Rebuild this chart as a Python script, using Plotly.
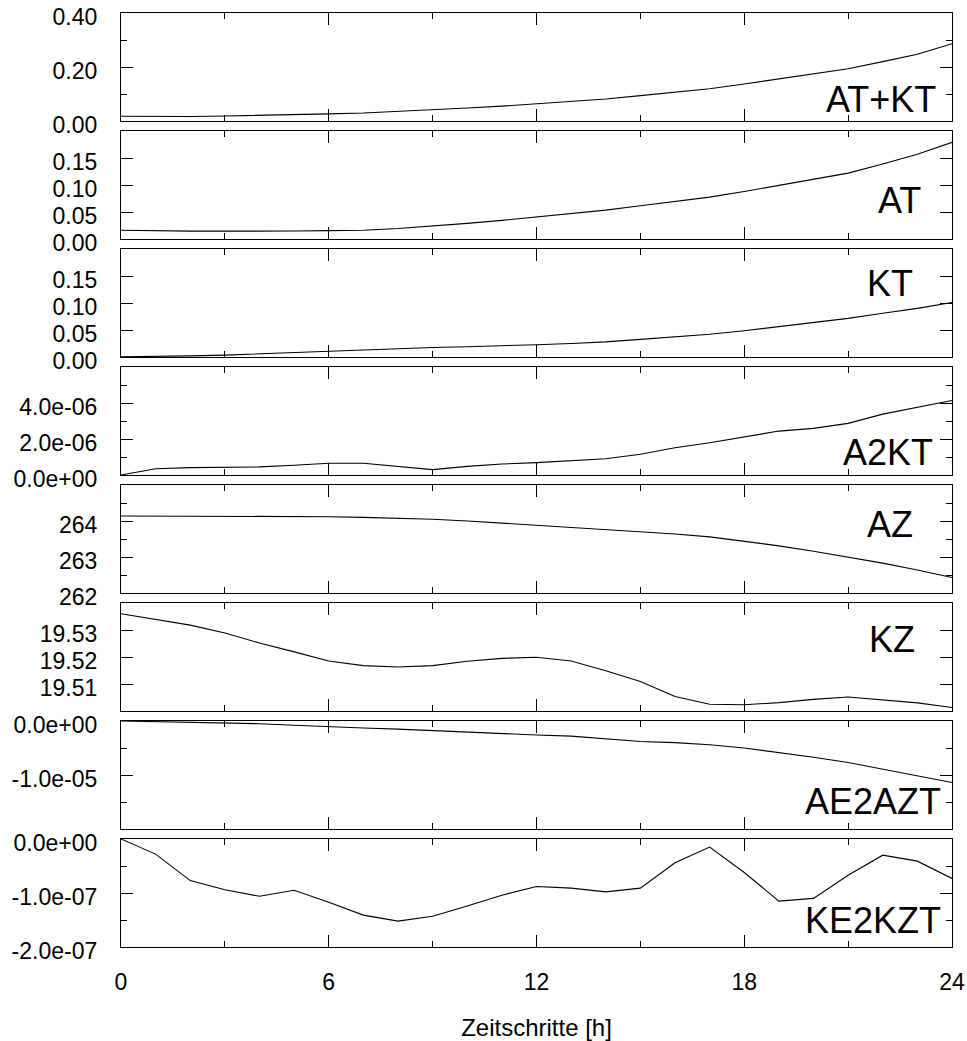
import plotly.graph_objects as go

# Hourly time steps
hours = list(range(25))

at_kt = [0.0175, 0.0165, 0.0165, 0.0185, 0.0205, 0.0235, 0.0265, 0.0295, 0.0350, 0.0415,
         0.0480, 0.0550, 0.0640, 0.0720, 0.0815, 0.0940, 0.1065, 0.1195, 0.1370, 0.1550,
         0.1730, 0.1935, 0.2200, 0.2470, 0.2860]
at = [0.0163, 0.0152, 0.0145, 0.0145, 0.0143, 0.0147, 0.0155, 0.0162, 0.0195, 0.0237,
      0.0290, 0.0345, 0.0410, 0.0470, 0.0535, 0.0617, 0.0695, 0.0775, 0.0880, 0.0990,
      0.1100, 0.1220, 0.1390, 0.1570, 0.1790]
kt = [0.0005, 0.0010, 0.0020, 0.0035, 0.0060, 0.0085, 0.0110, 0.0130, 0.0155, 0.0177,
      0.0190, 0.0205, 0.0227, 0.0250, 0.0280, 0.0326, 0.0370, 0.0420, 0.0487, 0.0560,
      0.0630, 0.0716, 0.0810, 0.0900, 0.1010]
a2kt = [0.0, 0.35e-6, 0.41e-6, 0.41e-6, 0.45e-6, 0.54e-6, 0.65e-6, 0.65e-6, 0.46e-6, 0.30e-6,
        0.48e-6, 0.61e-6, 0.69e-6, 0.80e-6, 0.90e-6, 1.15e-6, 1.51e-6, 1.79e-6, 2.13e-6, 2.44e-6,
        2.59e-6, 2.87e-6, 3.38e-6, 3.77e-6, 4.14e-6]
az = [264.14, 264.14, 264.14, 264.14, 264.14, 264.13, 264.12, 264.10, 264.08, 264.05,
      264.00, 263.94, 263.88, 263.83, 263.77, 263.71, 263.64, 263.56, 263.44, 263.31,
      263.16, 263.00, 262.83, 262.64, 262.43]
kz = [19.5360, 19.5340, 19.5318, 19.5289, 19.5252, 19.5219, 19.5185, 19.5168, 19.5163, 19.5168,
      19.5184, 19.5195, 19.5199, 19.5185, 19.5149, 19.5109, 19.5054, 19.5025, 19.5023, 19.5031,
      19.5043, 19.5052, 19.5042, 19.5030, 19.5013]
ae2azt = [0.0, -0.1e-6, -0.2e-6, -0.3e-6, -0.5e-6, -0.8e-6, -1.1e-6, -1.3e-6, -1.5e-6, -1.8e-6,
          -2.1e-6, -2.4e-6, -2.6e-6, -2.8e-6, -3.3e-6, -3.8e-6, -4.0e-6, -4.4e-6, -5.0e-6, -5.8e-6,
          -6.7e-6, -7.7e-6, -8.9e-6, -10.1e-6, -11.4e-6]
ke2kzt = [0.0, -0.28e-7, -0.77e-7, -0.94e-7, -1.06e-7, -0.95e-7, -1.17e-7, -1.41e-7, -1.52e-7, -1.43e-7,
          -1.24e-7, -1.04e-7, -0.88e-7, -0.91e-7, -0.98e-7, -0.91e-7, -0.44e-7, -0.15e-7, -0.62e-7, -1.15e-7,
          -1.10e-7, -0.67e-7, -0.30e-7, -0.41e-7, -0.73e-7]

panel_names = ["AT+KT", "AT", "KT", "A2KT", "AZ", "KZ", "AE2AZT", "KE2KZT"]
series = [at_kt, at, kt, a2kt, az, kz, ae2azt, ke2kzt]

y_ranges = [[0, 0.4], [0, 0.2], [0, 0.2], [0, 6e-6], [262, 265], [19.50, 19.54], [-2e-5, 0], [-2e-7, 0]]
y_major = [[0, 0.2, 0.4],
           [0, 0.05, 0.10, 0.15, 0.2],
           [0, 0.05, 0.10, 0.15, 0.2],
           [0, 2e-6, 4e-6, 6e-6],
           [262, 263, 264, 265],
           [19.50, 19.51, 19.52, 19.53, 19.54],
           [-2e-5, -1e-5, 0],
           [-2e-7, -1e-7, 0]]
y_labels = [["0.00", "0.20", "0.40"],
            ["0.00", "0.05", "0.10", "0.15", ""],
            ["0.00", "0.05", "0.10", "0.15", ""],
            ["0.0e+00", "2.0e-06", "4.0e-06", ""],
            ["262", "263", "264", ""],
            ["", "19.51", "19.52", "19.53", ""],
            ["", "-1.0e-05", "0.0e+00"],
            ["-2.0e-07", "-1.0e-07", "0.0e+00"]]
y_minor = [[0.1, 0.3], [], [], [1e-6, 3e-6, 5e-6], [262.5, 263.5, 264.5], [],
           [-1.5e-5, -5e-6], [-1.5e-7, -5e-8]]

x_major = [0, 6, 12, 18, 24]
x_labels = ["0", "6", "12", "18", "24"]
x_minor = [3, 9, 15, 21]
x_title = "Zeitschritte [h]"

# Panel label placement inside each panel (axis-domain fractions)
label_pos = [(0.983, 0.196), (0.965, 0.355), (0.955, 0.676), (0.980, 0.208),
             (0.955, 0.636), (0.958, 0.664), (0.989, 0.252), (0.989, 0.250)]

W, H = 967, 1041
m_l, m_r, m_t, m_b = 121, 15, 13, 94
plot_h = H - m_t - m_b
step_px, panel_px = 118, 108

font_family = "Liberation Sans, Arial, Helvetica, sans-serif"
tick_font = dict(family=font_family, size=23, color="black")

fig = go.Figure()
layout = dict(
    template="none",
    width=W, height=H,
    margin=dict(l=m_l, r=m_r, t=m_t, b=m_b, pad=0, autoexpand=False),
    paper_bgcolor="white", plot_bgcolor="white",
    showlegend=False,
    font=dict(family=font_family, color="black"),
    annotations=[],
)

n = len(series)
for i in range(n):
    k = i + 1
    xa = "x" if k == 1 else f"x{k}"
    ya = "y" if k == 1 else f"y{k}"
    fig.add_trace(go.Scatter(x=hours, y=series[i], mode="lines",
                             line=dict(color="black", width=1.1),
                             xaxis=xa, yaxis=ya, hoverinfo="skip"))
    y1 = 1 - step_px * i / plot_h
    y0 = max(0.0, y1 - panel_px / plot_h)
    last = (i == n - 1)
    xaxis = dict(
        domain=[0, 1], anchor=ya, range=[0, 24], automargin=False,
        showline=True, linecolor="black", linewidth=1.3, mirror="ticks",
        ticks="inside", ticklen=12, tickwidth=1.1, tickcolor="black",
        tickmode="array", tickvals=x_major, ticktext=x_labels,
        showticklabels=last, tickfont=tick_font, ticklabelstandoff=14,
        ticklabeloverflow="allow",
        minor=dict(ticks="inside", ticklen=6, tickwidth=1.1, tickcolor="black",
                   tickmode="array", tickvals=x_minor),
        showgrid=False, zeroline=False, fixedrange=True,
    )
    if i > 0:
        xaxis["matches"] = "x"
    if last:
        xaxis["title"] = dict(text=x_title, font=dict(family=font_family, size=24, color="black"),
                              standoff=36)
    yaxis = dict(
        domain=[y0, y1], anchor=xa, range=y_ranges[i], automargin=False,
        showline=True, linecolor="black", linewidth=1.3, mirror="ticks",
        ticks="inside", ticklen=12, tickwidth=1.1, tickcolor="black",
        tickmode="array", tickvals=y_major[i], ticktext=y_labels[i],
        tickfont=tick_font, ticklabelstandoff=18, ticklabelshift=4,
        ticklabeloverflow="allow",
        showgrid=False, zeroline=False, fixedrange=True,
    )
    if y_minor[i]:
        yaxis["minor"] = dict(ticks="inside", ticklen=6, tickwidth=1.1, tickcolor="black",
                              tickmode="array", tickvals=y_minor[i])
    layout["xaxis" if k == 1 else f"xaxis{k}"] = xaxis
    layout["yaxis" if k == 1 else f"yaxis{k}"] = yaxis
    lx, ly = label_pos[i]
    layout["annotations"].append(dict(
        text=panel_names[i], xref=f"{xa} domain", yref=f"{ya} domain",
        x=lx, y=ly, xanchor="right", yanchor="middle", showarrow=False,
        font=dict(family=font_family, size=36, color="black")))

fig.update_layout(**layout)
fig.write_html("out.html", config={"displayModeBar": False})
